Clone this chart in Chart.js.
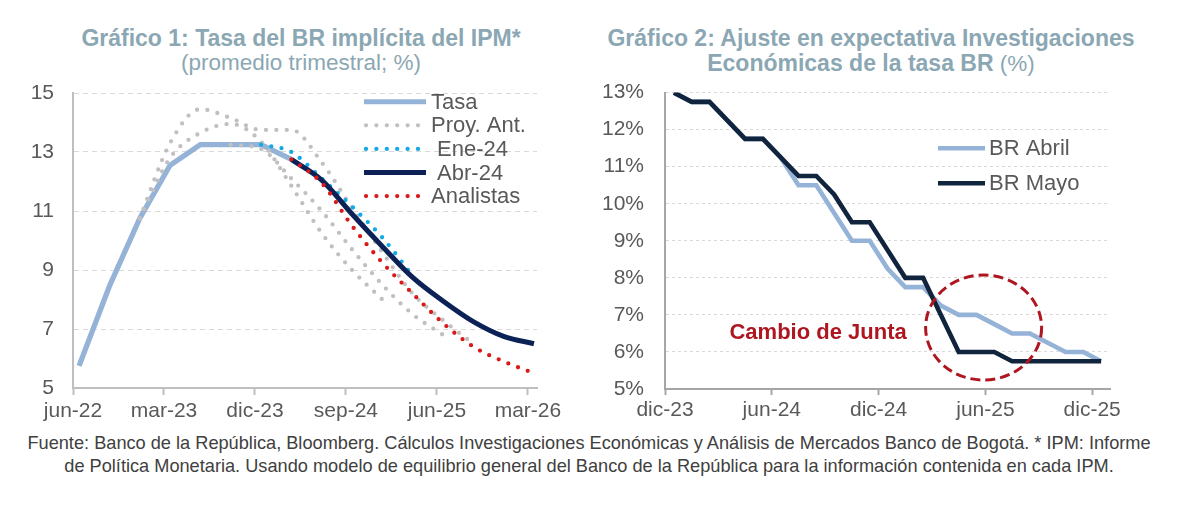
<!DOCTYPE html>
<html>
<head>
<meta charset="utf-8">
<script src="https://cdn.jsdelivr.net/npm/chart.js@4.4.1/dist/chart.umd.min.js"></script>
<style>
body{margin:0;width:1178px;height:508px;background:#fff;position:relative;overflow:hidden;font-family:"Liberation Sans",Arial,sans-serif}
.title{position:absolute;top:26px;text-align:center;color:#8BA7B3;font-size:22.5px;line-height:24px}
.title b{font-weight:bold;font-size:23px}
.box{position:absolute;top:80px;height:345px}
.note{position:absolute;left:0;width:1178px;top:432px;text-align:center;color:#404040;font-size:18.2px;line-height:23px}
</style>
</head>
<body>
<div class="title" style="left:0;width:602px"><b>Gráfico 1: Tasa del BR implícita del IPM*</b><br>(promedio trimestral; %)</div>
<div class="title" style="left:580px;width:582px"><b>Gráfico 2: Ajuste en expectativa Investigaciones<br>Económicas de la tasa BR</b> (%)</div>
<div class="box" style="left:0;width:575px"><canvas id="chart1"></canvas></div>
<div class="box" style="left:580px;width:598px"><canvas id="chart2"></canvas></div>
<div class="note">Fuente: Banco de la República, Bloomberg. Cálculos Investigaciones Económicas y Análisis de Mercados Banco de Bogotá. * IPM: Informe<br>de Política Monetaria. Usando modelo de equilibrio general del Banco de la República para la información contenida en cada IPM.</div>

<script>
// ===== DATA: GRAFICO 1 (promedio trimestral, %) =====
const quarters = ["jun-22","sep-22","dic-22","mar-23","jun-23","sep-23","dic-23","mar-24",
                  "jun-24","sep-24","dic-24","mar-25","jun-25","sep-25","dic-25","mar-26"];
const xTicks1 = ["jun-22","mar-23","dic-23","sep-24","jun-25","mar-26"];

const tasa      = [5.75, 8.45, 10.75, 12.55, 13.25, 13.25, 13.25, 12.75, null, null, null, null, null, null, null, null];
const proyAnt1  = [null, null, 10.75, 13.3, 14.45, 14.15, 13.75, 13.75, 12.65, 11.1, 9.6, 8.2, 7.3, 6.5, null, null];
const proyAnt2  = [null, null, 10.75, 12.8, 13.65, 13.95, 13.35, 11.85, 10.25, 9.0, 8.0, null, null, null, null, null];
const proyAnt3  = [null, null, null, null, null, 13.25, 13.1, 12.1, 11.0, 9.7, 8.5, 7.5, 6.8, null, null, null];
const ene24     = [null, null, null, null, null, null, 13.25, 13.0, 12.1, 11.15, 10.1, 8.8, null, null, null, null];
const abr24     = [null, null, null, null, null, null, null, 12.75, 12.05, 10.9, 9.8, 8.75, 7.95, 7.25, 6.75, 6.5];
const analistas = [null, null, null, null, null, null, null, 12.75, 11.95, 10.5, 9.25, 8.2, 7.2, 6.4, 5.9, 5.5];

// ===== DATA: GRAFICO 2 (%) =====
const months = ["dic-23","ene-24","feb-24","mar-24","abr-24","may-24","jun-24","jul-24","ago-24","sep-24",
                "oct-24","nov-24","dic-24","ene-25","feb-25","mar-25","abr-25","may-25","jun-25","jul-25",
                "ago-25","sep-25","oct-25","nov-25","dic-25"];
const xTicks2 = ["dic-23","jun-24","dic-24","jun-25","dic-25"];

const brAbril = [13.0, 12.75, 12.75, 12.25, 11.75, 11.75, 11.25, 10.5, 10.5, 9.75, 9.0, 9.0, 8.25,
                 7.75, 7.75, 7.25, 7.0, 7.0, 6.75, 6.5, 6.5, 6.25, 6.0, 6.0, 5.75];
const brMayo  = [13.0, 12.75, 12.75, 12.25, 11.75, 11.75, 11.25, 10.75, 10.75, 10.25, 9.5, 9.5, 8.75,
                 8.0, 8.0, 7.0, 6.0, 6.0, 6.0, 5.75, 5.75, 5.75, 5.75, 5.75, 5.75];

const juntaNote = {label: "Cambio de Junta", month: 8.6, value: 6.5};
const juntaCircle = {month: 17.9, value: 6.66};

// ===== STYLES =====
Chart.defaults.font.family = '"Liberation Sans", Arial, sans-serif';
Chart.defaults.color = '#595959';

const cTasa = '#95B3D7', cGrey = '#C0C0C0', cEne = '#12A9E6', cAbr = '#0C2257', cAna = '#DA1A1A';
const cMayo = '#11243D', cRed = '#AE1620';
const DOTS = [0, 10.4];
const TICK_SHIFT = -0.2;   // trimestre vs. marca del eje

function toXY(arr, shift){
    return arr.map((v, i) => ({x: i + shift, y: v}));
}

function dotted(label, arr, color, order){
    return {label, data: toXY(arr, 0), borderColor: color, borderWidth: 4.3,
            borderDash: DOTS, borderCapStyle: 'round', pointRadius: 0,
            cubicInterpolationMode: 'monotone', order};
}

// ===== OVERLAY (legend + notes) =====
function makeOverlay(cfg){
    return {
        id: 'overlay',
        afterDatasetsDraw(chart){
            const ctx = chart.ctx;
            const sx = chart.scales.x, sy = chart.scales.y;
            if(cfg.ellipse){
                const e = cfg.ellipse;
                ctx.save();
                ctx.beginPath();
                ctx.ellipse(sx.getPixelForValue(e.x), sy.getPixelForValue(e.y), e.rx, e.ry, 0, 0, Math.PI * 2);
                ctx.setLineDash([10, 5]);
                ctx.lineWidth = 3;
                ctx.strokeStyle = cRed;
                ctx.stroke();
                ctx.restore();
            }
            if(cfg.text){
                const t = cfg.text;
                ctx.save();
                ctx.font = 'bold 22px "Liberation Sans", Arial, sans-serif';
                ctx.fillStyle = cRed;
                ctx.textAlign = 'center';
                ctx.textBaseline = 'middle';
                ctx.fillText(t.label, sx.getPixelForValue(t.x), sy.getPixelForValue(t.y));
                ctx.restore();
            }
            const lg = cfg.legend;
            ctx.save();
            ctx.font = '22px "Liberation Sans", Arial, sans-serif';
            ctx.textBaseline = 'middle';
            lg.items.forEach((it, i) => {
                const y = lg.y + i * lg.step;
                ctx.beginPath();
                ctx.strokeStyle = it.color;
                ctx.lineWidth = it.width;
                ctx.lineCap = it.dash ? 'round' : 'butt';
                ctx.setLineDash(it.dash || []);
                ctx.moveTo(it.dash ? lg.x1 + 2 : lg.x1, y);
                ctx.lineTo(lg.x2, y);
                ctx.stroke();
                ctx.setLineDash([]);
                ctx.fillStyle = '#595959';
                ctx.fillText(it.label, lg.tx, y + 1);
            });
            ctx.restore();
        }
    };
}

// y grid: invisible ticks give the label gap without adding top padding
function gridY(gap){
    return {color: '#D9D9D9', lineWidth: 1, drawTicks: true, tickLength: gap, tickColor: 'rgba(0,0,0,0)'};
}

// ===== CHART 1 =====
new Chart(document.getElementById('chart1'), {
    type: 'line',
    data: {
        datasets: [
            dotted('Analistas', analistas, cAna, 1),
            {label: 'Abr-24', data: toXY(abr24, 0), borderColor: cAbr, borderWidth: 5, pointRadius: 0,
             cubicInterpolationMode: 'monotone', order: 2},
            dotted('Ene-24', ene24, cEne, 3),
            dotted('Proy. Ant.', proyAnt1, cGrey, 4),
            dotted('Proy. Ant.', proyAnt2, cGrey, 4),
            dotted('Proy. Ant.', proyAnt3, cGrey, 4),
            {label: 'Tasa', data: toXY(tasa, 0), borderColor: cTasa, borderWidth: 5.3, pointRadius: 0,
             tension: 0, order: 5}
        ]
    },
    options: {
        responsive: true,
        maintainAspectRatio: false,
        animation: false,
        layout: {padding: {top: 13, right: 38, left: 0, bottom: 0}, autoPadding: false},
        plugins: {legend: {display: false}, tooltip: {enabled: false}},
        scales: {
            x: {
                type: 'linear', min: TICK_SHIFT, max: 15.1,
                afterBuildTicks: s => { s.ticks = xTicks1.map(l => ({value: quarters.indexOf(l) + TICK_SHIFT})); },
                afterFit: s => { s.height = 37; },
                ticks: {callback: (v, i) => xTicks1[i], autoSkip: false, maxRotation: 0,
                        padding: 4, font: {size: 21}, color: '#595959'},
                grid: {drawOnChartArea: false, tickLength: 7, tickColor: '#BFBFBF', tickWidth: 2},
                border: {color: '#BFBFBF', width: 2}
            },
            y: {
                min: 5, max: 15,
                afterFit: s => { s.width = 73; },
                ticks: {stepSize: 2, padding: 0, font: {size: 21}, color: '#595959'},
                grid: gridY(19),
                border: {color: '#BFBFBF', width: 2, dash: [5, 4]}
            }
        }
    },
    plugins: [makeOverlay({
        legend: {x1: 364, x2: 426, tx: 431, y: 21.7, step: 23.6, items: [
            {label: 'Tasa', color: cTasa, width: 5},
            {label: 'Proy. Ant.', color: cGrey, width: 4.3, dash: DOTS},
            {label: ' Ene-24', color: cEne, width: 4.3, dash: DOTS},
            {label: ' Abr-24', color: cAbr, width: 5},
            {label: 'Analistas', color: cAna, width: 4.3, dash: DOTS}
        ]}
    })]
});

// ===== CHART 2 =====
new Chart(document.getElementById('chart2'), {
    type: 'line',
    data: {
        datasets: [
            {label: 'BR Mayo', data: toXY(brMayo, 0.5), borderColor: cMayo, borderWidth: 4.6,
             pointRadius: 0, tension: 0, order: 1},
            {label: 'BR Abril', data: toXY(brAbril, 0.5), borderColor: cTasa, borderWidth: 4.6,
             pointRadius: 0, tension: 0, order: 2}
        ]
    },
    options: {
        responsive: true,
        maintainAspectRatio: false,
        animation: false,
        layout: {padding: {top: 12, right: 68, left: 0, bottom: 0}, autoPadding: false},
        plugins: {legend: {display: false}, tooltip: {enabled: false}},
        scales: {
            x: {
                type: 'linear', min: 0, max: 25,
                afterBuildTicks: s => { s.ticks = xTicks2.map(l => ({value: months.indexOf(l)})); },
                afterFit: s => { s.height = 36; },
                ticks: {callback: (v, i) => xTicks2[i], autoSkip: false, maxRotation: 0,
                        padding: 3, font: {size: 21}, color: '#595959'},
                grid: {drawOnChartArea: false, tickLength: 6, tickColor: '#A6A6A6', tickWidth: 2},
                border: {color: '#A6A6A6', width: 2}
            },
            y: {
                min: 5, max: 13,
                afterFit: s => { s.width = 85; },
                ticks: {stepSize: 1, padding: 0, font: {size: 21}, color: '#595959',
                        callback: v => v + '%'},
                grid: gridY(21),
                border: {color: '#A6A6A6', width: 2, dash: [3, 3]}
            }
        }
    },
    plugins: [makeOverlay({
        ellipse: {x: juntaCircle.month, y: juntaCircle.value, rx: 58, ry: 52.5},
        text: {label: juntaNote.label, x: juntaNote.month, y: juntaNote.value},
        legend: {x1: 358, x2: 405, tx: 409, y: 68.3, step: 35, items: [
            {label: 'BR Abril', color: cTasa, width: 4.6},
            {label: 'BR Mayo', color: cMayo, width: 4.6}
        ]}
    })]
});
</script>
</body>
</html>
